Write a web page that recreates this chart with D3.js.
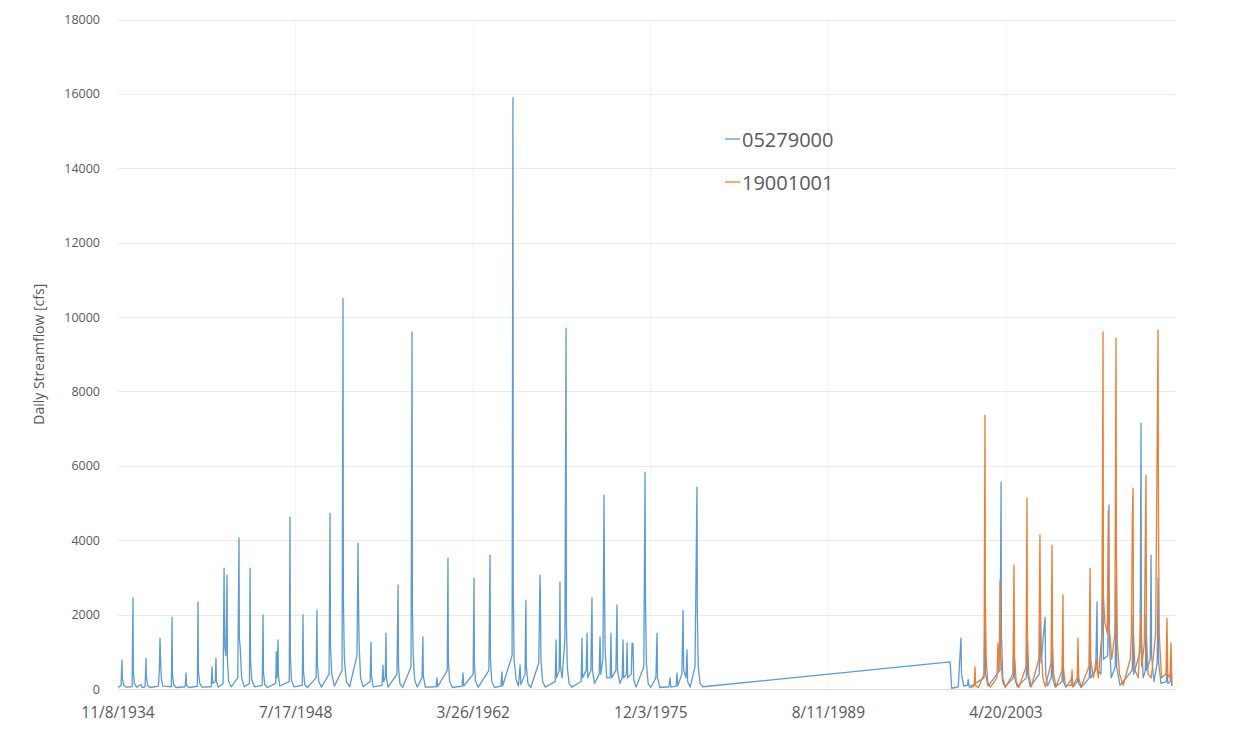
<!DOCTYPE html>
<html>
<head>
<meta charset="utf-8">
<script src="https://cdn.jsdelivr.net/npm/d3@7"></script>
<style>
  body { margin: 0; background: #ffffff; }
  text { font-family: "Open Sans", "Liberation Sans", sans-serif; fill: #595959; }
</style>
</head>
<body>
<svg id="chart" width="1252" height="752"></svg>
<script>
// Gage identifiers and their line colours
const seriesNames = ["05279000", "19001001"];
const seriesColors = ["#5b9bd5", "#ed7d31"];

// Axis ticks
const yTicks = [0, 2000, 4000, 6000, 8000, 10000, 12000, 14000, 16000, 18000];
const xTickDates = ["1934-11-08", "1948-07-17", "1962-03-26", "1975-12-03", "1989-08-11", "2003-04-20"];
const xDomain = ["1934-11-08", "2016-04-29"];

// Daily streamflow [cfs], gage 05279000 (no record 1980-1998)
const flow05279000 = [
  ["1934-11-08", 40], ["1935-02-01", 90], ["1935-02-28", 780], ["1935-03-10", 300], ["1935-04-10", 120], ["1935-06-15", 50],
  ["1935-12-10", 60], ["1936-01-04", 2450], ["1936-01-14", 500], ["1936-02-10", 150], ["1936-04-15", 50],
  ["1936-08-20", 120], ["1936-09-20", 40],
  ["1936-12-10", 60], ["1937-01-05", 830], ["1937-01-15", 350], ["1937-02-20", 100], ["1937-05-01", 40],
  ["1937-12-20", 80], ["1938-01-15", 500], ["1938-02-03", 1370], ["1938-02-15", 900], ["1938-03-10", 300], ["1938-04-20", 80],
  ["1938-12-20", 60], ["1939-01-08", 1930], ["1939-01-18", 400], ["1939-02-20", 120], ["1939-05-01", 40],
  ["1940-01-10", 60], ["1940-02-06", 430], ["1940-02-20", 100], ["1940-05-01", 40],
  ["1940-12-20", 70], ["1941-01-08", 2340], ["1941-01-18", 500], ["1941-02-25", 150], ["1941-05-01", 50],
  ["1942-01-15", 60], ["1942-02-06", 600], ["1942-02-25", 150], ["1942-05-10", 200], ["1942-05-28", 830], ["1942-06-10", 200], ["1942-08-01", 50],
  ["1942-12-15", 150], ["1943-01-12", 3250], ["1943-01-25", 1200], ["1943-03-01", 900], ["1943-04-05", 3060], ["1943-04-15", 800], ["1943-05-20", 200], ["1943-08-01", 60],
  ["1944-02-01", 300], ["1944-03-06", 4060], ["1944-03-16", 1400], ["1944-04-10", 1100], ["1944-05-20", 300], ["1944-08-01", 60],
  ["1944-12-25", 150], ["1945-01-12", 3250], ["1945-01-24", 800], ["1945-03-01", 250], ["1945-05-15", 60],
  ["1945-12-20", 100], ["1946-01-12", 1990], ["1946-01-24", 450], ["1946-03-01", 120], ["1946-05-15", 40],
  ["1947-01-05", 150], ["1947-01-22", 1000], ["1947-02-10", 300], ["1947-03-10", 1320], ["1947-03-22", 350], ["1947-05-01", 80],
  ["1948-01-20", 200], ["1948-02-10", 4620], ["1948-02-20", 900], ["1948-03-20", 250], ["1948-06-01", 60],
  ["1949-01-20", 100], ["1949-02-10", 2000], ["1949-02-22", 500], ["1949-04-01", 120], ["1949-06-15", 40],
  ["1950-02-15", 300], ["1950-03-10", 2120], ["1950-03-22", 700], ["1950-05-01", 200], ["1950-07-15", 50],
  ["1951-02-15", 400], ["1951-03-13", 4730], ["1951-03-25", 1200], ["1951-05-01", 400], ["1951-07-15", 80],
  ["1952-02-15", 500], ["1952-03-13", 10500], ["1952-03-23", 2400], ["1952-04-20", 800], ["1952-06-15", 200], ["1952-09-15", 60],
  ["1953-04-10", 900], ["1953-05-10", 3920], ["1953-05-20", 2580], ["1953-06-10", 1200], ["1953-07-20", 300], ["1953-10-01", 60],
  ["1954-04-15", 200], ["1954-05-10", 1260], ["1954-05-22", 350], ["1954-07-10", 60],
  ["1955-03-15", 100], ["1955-04-12", 640], ["1955-05-01", 200], ["1955-06-15", 300], ["1955-07-05", 1500], ["1955-07-18", 300], ["1955-09-01", 50],
  ["1956-05-10", 400], ["1956-06-10", 2800], ["1956-06-22", 600], ["1956-08-01", 150], ["1956-10-15", 40],
  ["1957-06-10", 600], ["1957-07-08", 9600], ["1957-07-18", 2200], ["1957-08-10", 900], ["1957-09-20", 250], ["1957-12-01", 50],
  ["1958-04-15", 300], ["1958-05-10", 1400], ["1958-05-22", 350], ["1958-07-15", 50],
  ["1959-05-15", 60], ["1959-06-10", 300], ["1959-06-30", 60],
  ["1960-03-25", 500], ["1960-04-15", 3520], ["1960-04-25", 800], ["1960-06-01", 200], ["1960-08-15", 40],
  ["1961-05-15", 80], ["1961-06-12", 430], ["1961-07-01", 80],
  ["1962-03-25", 400], ["1962-04-18", 2980], ["1962-04-28", 700], ["1962-06-01", 200], ["1962-08-15", 50],
  ["1963-06-10", 500], ["1963-07-12", 3600], ["1963-07-24", 800], ["1963-09-01", 200], ["1963-11-15", 40],
  ["1964-05-15", 80], ["1964-06-12", 460], ["1964-07-01", 80],
  ["1965-03-25", 900], ["1965-04-18", 15900], ["1965-04-26", 2800], ["1965-05-20", 800], ["1965-07-15", 250], ["1965-09-20", 80], ["1965-11-05", 650], ["1965-11-25", 120],
  ["1966-03-25", 400], ["1966-04-18", 2390], ["1966-04-30", 600], ["1966-06-15", 150], ["1966-09-01", 40],
  ["1967-04-15", 700], ["1967-05-20", 3060], ["1967-05-30", 2600], ["1967-06-15", 800], ["1967-08-01", 200], ["1967-10-15", 50],
  ["1968-07-20", 200], ["1968-08-14", 1320], ["1968-08-28", 300], ["1968-11-10", 500], ["1968-12-02", 2870], ["1968-12-15", 600], ["1969-02-01", 300],
  ["1969-04-20", 1400], ["1969-05-22", 9700], ["1969-06-01", 1800], ["1969-06-25", 600], ["1969-08-15", 150], ["1969-11-01", 50],
  ["1970-07-20", 200], ["1970-08-14", 1370], ["1970-08-28", 300], ["1970-12-10", 500], ["1971-01-04", 1500], ["1971-01-20", 300],
  ["1971-04-20", 500], ["1971-05-22", 2450], ["1971-06-05", 500], ["1971-08-01", 150],
  ["1971-12-10", 400], ["1972-01-04", 1400], ["1972-01-25", 400], ["1972-03-25", 800], ["1972-04-25", 5210], ["1972-05-05", 3120], ["1972-05-25", 1100], ["1972-07-10", 300],
  ["1972-10-15", 300], ["1972-11-06", 1500], ["1972-11-25", 300], ["1973-03-25", 500], ["1973-04-25", 2260], ["1973-05-10", 500], ["1973-07-15", 150],
  ["1973-09-20", 300], ["1973-10-12", 1320], ["1973-10-30", 300], ["1974-01-15", 400], ["1974-02-03", 1240], ["1974-02-20", 300],
  ["1974-06-01", 400], ["1974-06-25", 1240], ["1974-07-20", 1200], ["1974-08-10", 250], ["1974-10-15", 50],
  ["1975-05-20", 600], ["1975-06-25", 5830], ["1975-07-05", 2470], ["1975-08-01", 700], ["1975-09-20", 150], ["1975-12-01", 40],
  ["1976-04-25", 300], ["1976-05-26", 1500], ["1976-06-10", 300], ["1976-08-15", 40],
  ["1977-04-25", 60], ["1977-05-26", 300], ["1977-06-20", 50], ["1977-11-15", 80], ["1977-12-10", 430], ["1978-01-01", 80],
  ["1978-04-25", 400], ["1978-05-30", 2120], ["1978-06-15", 500], ["1978-08-20", 300], ["1978-09-16", 1050], ["1978-10-05", 200], ["1978-12-15", 50],
  ["1979-05-01", 600], ["1979-06-25", 5430], ["1979-07-05", 2040], ["1979-08-01", 600], ["1979-09-20", 150], ["1979-12-12", 60],
  ["1998-12-28", 730], ["1999-02-10", 20], ["1999-08-15", 60], ["1999-10-30", 1370], ["1999-11-15", 400], ["2000-01-15", 80],
  ["2000-05-01", 100], ["2000-05-20", 250], ["2000-06-20", 50],
  ["2001-08-10", 300], ["2001-09-05", 2000], ["2001-09-20", 400], ["2001-12-01", 80],
  ["2002-11-01", 500], ["2002-12-03", 5560], ["2002-12-12", 1500], ["2003-01-20", 300], ["2003-04-01", 60],
  ["2003-11-10", 300], ["2003-12-01", 1500], ["2003-12-20", 300], ["2004-03-01", 60],
  ["2004-11-10", 300], ["2004-12-01", 2000], ["2004-12-20", 400], ["2005-03-01", 60],
  ["2005-11-10", 400], ["2005-12-01", 1800], ["2006-01-01", 700], ["2006-04-22", 1930], ["2006-05-10", 400], ["2006-07-01", 80],
  ["2006-10-15", 300], ["2006-11-06", 1500], ["2006-11-25", 300], ["2007-02-01", 50],
  ["2007-08-15", 200], ["2007-09-10", 1000], ["2007-09-25", 200], ["2007-12-01", 40],
  ["2008-05-22", 300], ["2008-06-15", 50], ["2008-10-20", 200], ["2008-11-06", 700], ["2008-11-25", 150], ["2009-02-01", 40],
  ["2009-09-20", 300], ["2009-10-12", 1500], ["2009-10-30", 300], ["2010-03-20", 500], ["2010-04-26", 2340], ["2010-05-10", 500], ["2010-08-15", 400],
  ["2010-10-12", 3000], ["2010-10-25", 800], ["2011-02-20", 900], ["2011-03-28", 4950], ["2011-04-10", 1200], ["2011-06-01", 300],
  ["2011-09-20", 600], ["2011-10-12", 3000], ["2011-10-30", 600], ["2012-02-01", 100],
  ["2013-01-10", 500], ["2013-02-03", 2000], ["2013-02-20", 400], ["2013-08-20", 1000], ["2013-09-16", 7150], ["2013-09-26", 1500], ["2013-11-15", 300],
  ["2014-01-15", 500], ["2014-02-03", 2000], ["2014-02-20", 500], ["2014-06-01", 800], ["2014-06-25", 3600], ["2014-07-10", 900], ["2014-09-15", 200],
  ["2014-12-15", 700], ["2015-01-08", 3000], ["2015-01-25", 700], ["2015-04-01", 150], ["2015-09-01", 200], ["2015-09-16", 800], ["2015-10-10", 150],
  ["2015-12-20", 200], ["2016-01-08", 600], ["2016-01-31", 80]
];

// Daily streamflow [cfs], gage 19001001
const flow19001001 = [
  ["2000-08-01", 30], ["2000-11-05", 80], ["2000-11-28", 600], ["2000-12-15", 100], ["2001-03-01", 30],
  ["2001-08-10", 400], ["2001-09-05", 7360], ["2001-09-15", 2390], ["2001-10-10", 800], ["2001-11-20", 200], ["2002-02-01", 50],
  ["2002-08-10", 300], ["2002-09-06", 1240], ["2002-09-25", 500], ["2002-10-15", 900], ["2002-11-03", 2930], ["2002-11-20", 900], ["2003-01-10", 200], ["2003-04-01", 40],
  ["2003-11-01", 400], ["2003-12-01", 3330], ["2003-12-15", 900], ["2004-02-01", 200], ["2004-04-15", 40],
  ["2004-11-05", 600], ["2004-12-01", 5130], ["2004-12-12", 1500], ["2005-01-20", 400], ["2005-04-01", 60],
  ["2005-11-01", 800], ["2005-12-01", 4140], ["2005-12-12", 2390], ["2006-01-10", 1000], ["2006-02-20", 300], ["2006-05-01", 60],
  ["2006-10-10", 700], ["2006-11-06", 3870], ["2006-11-18", 1300], ["2006-12-20", 400], ["2007-03-01", 60],
  ["2007-08-15", 500], ["2007-09-10", 2530], ["2007-09-22", 600], ["2007-11-15", 100],
  ["2008-05-01", 100], ["2008-05-22", 510], ["2008-06-10", 80], ["2008-10-15", 300], ["2008-11-06", 1370], ["2008-11-25", 300], ["2009-02-01", 60],
  ["2009-09-10", 600], ["2009-10-12", 3250], ["2009-10-28", 800], ["2010-01-15", 300], ["2010-04-01", 800], ["2010-06-01", 300],
  ["2010-09-10", 1500], ["2010-10-12", 9600], ["2010-10-22", 2500], ["2010-12-01", 1800], ["2011-02-10", 1500], ["2011-03-10", 4800], ["2011-03-25", 1800], ["2011-06-15", 800],
  ["2011-09-10", 1500], ["2011-10-12", 9430], ["2011-10-22", 3820], ["2011-11-20", 1200], ["2012-01-20", 400], ["2012-05-01", 100],
  ["2012-11-15", 800], ["2012-12-20", 1500], ["2013-01-15", 4700], ["2013-02-03", 5400], ["2013-02-15", 1500], ["2013-04-01", 500],
  ["2013-07-01", 300], ["2013-09-10", 2000], ["2013-10-05", 600], ["2013-12-15", 1200], ["2014-02-03", 5750], ["2014-02-15", 1500], ["2014-04-01", 400],
  ["2014-07-01", 300], ["2014-11-01", 1500], ["2015-01-08", 9650], ["2015-01-18", 4800], ["2015-02-10", 1500], ["2015-04-15", 300],
  ["2015-08-20", 400], ["2015-09-16", 1900], ["2015-10-05", 400], ["2015-12-10", 300], ["2016-01-08", 1240], ["2016-01-31", 100]
];

const parse = d3.timeParse("%Y-%m-%d");
const fmt = d3.timeFormat("%-m/%-d/%Y");
const toPoints = rows => rows.map(([d, v]) => ({ date: parse(d), value: v }));
const series = [toPoints(flow05279000), toPoints(flow19001001)];

const plot = { left: 118, right: 1175, top: 19.5, bottom: 689 };
const x = d3.scaleTime().domain(xDomain.map(parse)).range([plot.left, plot.right]);
const y = d3.scaleLinear().domain([0, 18000]).range([plot.bottom, plot.top]);

const svg = d3.select("#chart");
svg.append("rect").attr("width", 1252).attr("height", 752).attr("fill", "#ffffff");

// faint vertical guides at each date tick
svg.append("g").selectAll("line").data(xTickDates.slice(1)).join("line")
  .attr("x1", d => x(parse(d))).attr("x2", d => x(parse(d)))
  .attr("y1", plot.top).attr("y2", plot.bottom)
  .attr("stroke", "#f4f4f4").attr("stroke-width", 1);

// horizontal gridlines
svg.append("g").selectAll("line").data(yTicks).join("line")
  .attr("x1", plot.left).attr("x2", plot.right)
  .attr("y1", d => Math.round(y(d)) + 0.5).attr("y2", d => Math.round(y(d)) + 0.5)
  .attr("stroke", d => d === 0 ? "#dcdcdc" : "#ebebeb").attr("stroke-width", 1);

// y tick labels
svg.append("g").selectAll("text").data(yTicks).join("text")
  .attr("x", 100).attr("y", d => y(d))
  .attr("text-anchor", "end").attr("dominant-baseline", "central")
  .attr("font-size", 12.5).text(d => d);

// x tick labels
svg.append("g").selectAll("text").data(xTickDates).join("text")
  .attr("x", d => x(parse(d))).attr("y", 712)
  .attr("text-anchor", "middle").attr("dominant-baseline", "central")
  .attr("font-size", 15.5).text(d => fmt(parse(d)));

// y axis title
svg.append("text")
  .attr("transform", `translate(38,${(plot.top + plot.bottom) / 2}) rotate(-90)`)
  .attr("text-anchor", "middle").attr("dominant-baseline", "central")
  .attr("font-size", 14).text("Daily Streamflow [cfs]");

// streamflow lines
const line = d3.line().x(d => x(d.date)).y(d => y(d.value));
svg.append("g").selectAll("path").data(series).join("path")
  .attr("d", line)
  .attr("fill", "none")
  .attr("stroke", (d, i) => seriesColors[i])
  .attr("stroke-width", 1.3)
  .attr("stroke-linejoin", "round");

// legend
const legend = svg.append("g").selectAll("g").data(seriesNames).join("g")
  .attr("transform", (d, i) => `translate(725,${139 + i * 43})`);
legend.append("line").attr("x1", 0).attr("x2", 15).attr("y1", 0).attr("y2", 0)
  .attr("stroke", (d, i) => seriesColors[i]).attr("stroke-width", 1.3);
legend.append("text").attr("x", 17).attr("y", 0).attr("dominant-baseline", "central")
  .attr("font-size", 20).text(d => d);
</script>
</body>
</html>
